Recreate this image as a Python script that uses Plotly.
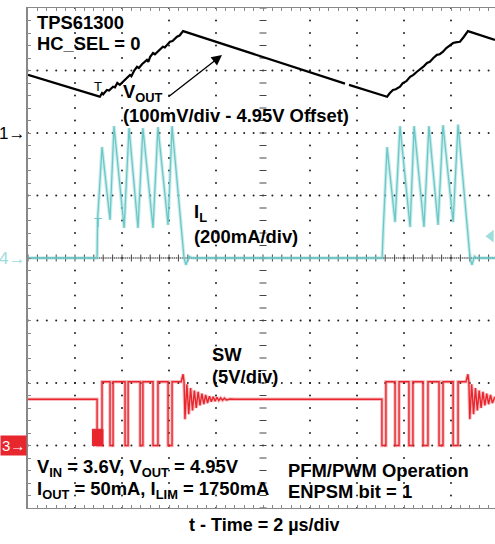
import numpy as np
import plotly.graph_objects as go

# scope settings: 2 us/div, 10 div across, 8 div high
DIV_T = 2.0
CH1_SCALE, CH1_OFFSET, CH1_POS = 0.1, 4.95, 2.0     # V/div, V, div
CH4_SCALE, CH4_POS = 200.0, 0.0                      # mA/div
CH3_SCALE, CH3_POS = 5.0, -3.0                       # V/div

# V_OUT (volts) vs time (us)
t_vout = [0.0, 1.0, 2.0, 2.98, 3.06, 3.15, 3.20, 3.36, 3.45, 3.62, 3.70, 3.80, 3.91, 4.00,
          4.15, 4.34, 4.40, 4.52, 4.64, 4.72, 4.85, 5.06, 5.12, 5.20, 5.32, 5.40, 5.55,
          5.74, 5.82, 5.95, 6.04, 6.15, 6.34, 6.45, 6.60, 13.49, None, 13.66, 15.28,
          15.40, 15.53, 15.65, 15.83, 15.95, 16.10, 16.26, 16.40, 16.55, 16.70, 16.85,
          16.98, 17.10, 17.25, 17.40, 17.52, 17.66, 17.80, 17.95, 18.09, 18.20, 18.38,
          18.55, 18.72, 19.87]
v_out = [5.043, 5.032, 5.020, 5.009, 5.008, 5.014, 5.012, 5.019, 5.018, 5.024, 5.023, 5.030,
         5.027, 5.031, 5.036, 5.043, 5.041, 5.050, 5.056, 5.054, 5.060, 5.067, 5.064, 5.072,
         5.078, 5.076, 5.082, 5.088, 5.087, 5.093, 5.096, 5.097, 5.104, 5.106, 5.113, 5.029,
         None, 5.027, 5.008, 5.014, 5.019, 5.020, 5.024, 5.030, 5.033, 5.040, 5.043, 5.048,
         5.052, 5.057, 5.062, 5.064, 5.070, 5.075, 5.076, 5.080, 5.086, 5.090, 5.094, 5.095,
         5.096, 5.104, 5.113, 5.099]

# inductor current I_L (mA)
t_il = [0.0, 2.94, 2.96, 3.15, 3.49, 3.66, 4.09, 4.30, 4.68, 4.89, 5.32, 5.53, 5.96, 6.13,
        6.64, 6.72, 6.85, 7.0, 15.07, 15.11, 15.28, 15.62, 15.83, 16.26, 16.43, 16.85,
        17.06, 17.45, 17.66, 18.09, 18.30, 18.81, 18.89, 19.0, 19.1, 19.87]
i_l = [0, 0, 120, 355, 122, 422, 96, 416, 96, 416, 96, 419, 106, 422,
       0, -22, 5, 0, 0, 80, 355, 115, 422, 99, 422, 99,
       422, 106, 425, 115, 427, 0, -22, 5, 0, 0]

# switch node SW (volts)
t_sw = [0.0, 2.94, 2.94, 3.15, 3.15, 3.49, 3.49, 3.62, 3.62, 4.13, 4.13, 4.26, 4.26,
        4.77, 4.77, 4.89, 4.89, 5.32, 5.32, 5.53, 5.53, 5.96, 5.96, 6.13, 6.13, 6.52,
        6.60, 6.64,
        6.68, 6.76, 6.84, 6.92, 7.00, 7.08, 7.16, 7.24, 7.32, 7.40, 7.48, 7.56, 7.64,
        7.72, 7.80, 7.88, 7.96, 8.04, 8.12, 8.20, 8.28, 8.36, 8.44, 8.60, 8.80,
        15.06, 15.06, 15.23, 15.23, 15.62, 15.62, 15.79, 15.79, 16.21, 16.21, 16.38,
        16.38, 16.81, 16.81, 17.02, 17.02, 17.49, 17.49, 17.66, 17.66, 18.09, 18.09,
        18.30, 18.30, 18.64, 18.72, 18.76,
        18.80, 18.88, 18.96, 19.04, 19.12, 19.20, 19.28, 19.36, 19.44, 19.52, 19.60,
        19.68, 19.76, 19.87]
v_sw = [3.7, 3.7, 0, 0, 5.1, 5.1, 0, 0, 5.1, 5.1, 0, 0, 5.1,
        5.1, 0, 0, 5.1, 5.1, 0, 0, 5.1, 5.1, 0, 0, 5.1, 5.1,
        5.7, 5.1,
        2.1, 4.9, 2.5, 4.6, 2.8, 4.4, 3.0, 4.3, 3.2, 4.15, 3.3, 4.05, 3.4,
        3.95, 3.5, 3.9, 3.55, 3.85, 3.6, 3.8, 3.62, 3.78, 3.65, 3.72, 3.7,
        3.7, 0, 0, 5.1, 5.1, 0, 0, 5.1, 5.1, 0, 0,
        5.1, 5.1, 0, 0, 5.1, 5.1, 0, 0, 5.1, 5.1, 0,
        0, 5.1, 5.1, 5.7, 5.1,
        2.1, 4.9, 2.5, 4.6, 2.8, 4.4, 3.0, 4.3, 3.2, 4.15, 3.3,
        4.05, 3.4, 3.9]

# overlapping edges at the first turn-on (drawn filled)
t_blob = [2.72, 3.19, 3.19, 2.72]
v_blob = [0, 0, 1.3, 1.3]


def ch1(v):
    return [None if x is None else CH1_POS + (x - CH1_OFFSET) / CH1_SCALE for x in v]


def ch4(v):
    return [CH4_POS + x / CH4_SCALE for x in v]


def ch3(v):
    return [CH3_POS + x / CH3_SCALE for x in v]


TMAX = 467 / 47 * DIV_T
FONT = "Liberation Sans, Arial, sans-serif"
CYAN = "#6cc8c8"
RED = "#e8262e"

fig = go.Figure()

# graticule dots
gx, gy = [], []
for k in range(1, 10):
    if k == 5:
        continue
    for y in np.arange(-4, 4.001, 0.2):
        gx.append(k * DIV_T); gy.append(y)
for j in range(-3, 4):
    if j == 0:
        continue
    for x in np.arange(0, TMAX, 0.4):
        gx.append(x); gy.append(j)
fig.add_trace(go.Scatter(x=gx, y=gy, mode="markers", hoverinfo="skip",
                         marker=dict(size=2, color="#222"), showlegend=False))
# centre axes with minor ticks
cy = np.arange(-4, 4.001, 0.2)
fig.add_trace(go.Scatter(x=[10] * len(cy), y=cy, mode="markers", hoverinfo="skip",
                         marker=dict(symbol="line-ew", size=5, line=dict(width=1, color="#444")),
                         showlegend=False))
cx = np.arange(0, TMAX, 0.4)
fig.add_trace(go.Scatter(x=cx, y=[0] * len(cx), mode="markers", hoverinfo="skip",
                         marker=dict(symbol="line-ns", size=5, line=dict(width=1, color="#444")),
                         showlegend=False))
fine = np.arange(0, TMAX, 0.08)
fig.add_trace(go.Scatter(x=fine, y=[0] * len(fine), mode="markers", hoverinfo="skip",
                         marker=dict(size=1.5, color="#444"), showlegend=False))

# traces
fig.add_trace(go.Scatter(x=t_il, y=ch4(i_l), mode="lines",
                         line=dict(color="rgba(108,200,200,0.35)", width=3.5), showlegend=False))
fig.add_trace(go.Scatter(x=t_il, y=ch4(i_l), mode="lines",
                         line=dict(color=CYAN, width=1.3), showlegend=False))
fig.add_trace(go.Scatter(x=t_blob, y=ch3(v_blob), fill="toself", mode="lines",
                         fillcolor=RED, line=dict(color=RED, width=1), showlegend=False))
fig.add_trace(go.Scatter(x=t_sw, y=ch3(v_sw), mode="lines",
                         line=dict(color="rgba(232,38,46,0.3)", width=3.5), showlegend=False))
fig.add_trace(go.Scatter(x=t_sw, y=ch3(v_sw), mode="lines",
                         line=dict(color=RED, width=1.4), showlegend=False))
fig.add_trace(go.Scatter(x=t_vout, y=ch1(v_out), mode="lines", connectgaps=False,
                         line=dict(color="black", width=2.2), showlegend=False))
# trigger level marker
fig.add_trace(go.Scatter(x=[19.7], y=[0.35], mode="markers", hoverinfo="skip",
                         marker=dict(symbol="triangle-left", size=11, color="#9fdcdc"),
                         showlegend=False))


def px(xp, yp):
    return (xp - 28) / 47 * DIV_T, (258 - yp) / 62.5


def label(text, xp, yp, size=18.4, color="black", anchor="left"):
    x, y = px(xp, yp)
    fig.add_annotation(x=x, y=y, text=text, showarrow=False, xanchor=anchor, yanchor="middle",
                       font=dict(family=FONT, size=size, color=color, weight="bold"))


label("TPS61300", 35, 22)
label("HC_SEL = 0", 35, 43)
label("V<sub>OUT</sub>", 121, 93)
label("(100mV/div - 4.95V Offset)", 121, 115)
label("I<sub>L</sub>", 192, 213)
label("(200mA/div)", 192, 236)
label("SW", 210, 354)
label("(5V/div)", 210, 376)
label("V<sub>IN</sub> = 3.6V, V<sub>OUT</sub> = 4.95V", 35, 468)
label("I<sub>OUT</sub> = 50mA, I<sub>LIM</sub> = 1750mA", 35, 490)
label("PFM/PWM Operation", 286, 470)
label("ENPSM bit = 1", 286, 491)

# x-axis caption below the screen
fig.add_annotation(x=(264 - 28) / 467, y=(508 - 525) / 500, xref="paper", yref="paper",
                   text="t - Time = 2 \u00b5s/div", showarrow=False, xanchor="center",
                   yanchor="middle", font=dict(family=FONT, size=18, color="black", weight="bold"))

# arrow to V_OUT trace
hx, hy = px(222, 55)
tx, ty = px(167, 98)
fig.add_annotation(x=hx, y=hy, ax=tx, ay=ty, axref="x", ayref="y", text="",
                   showarrow=True, arrowhead=2, arrowsize=1.6, arrowwidth=1.3, arrowcolor="black")

# trigger marks
for xp, yp, c in [(98, 86, "black"), (98, 222, CYAN)]:
    x, y = px(xp, yp)
    fig.add_annotation(x=x, y=y, text="T", showarrow=False,
                       font=dict(family=FONT, size=13, color=c))

# channel markers
fig.add_annotation(x=0, y=2, xref="x", text="1\u2192", showarrow=False, xanchor="right",
                   xshift=-1, font=dict(family=FONT, size=17, color="black"))
fig.add_annotation(x=0, y=0, xref="x", text="4\u2192", showarrow=False, xanchor="right",
                   xshift=-1, font=dict(family=FONT, size=17, color="#9fdcdc"))
fig.add_annotation(x=0, y=-3, xref="x", text="3\u2192", showarrow=False, xanchor="right",
                   xshift=-1, bgcolor=RED, borderpad=1,
                   font=dict(family=FONT, size=15, color="white"))

fig.update_layout(
    width=495, height=544,
    margin=dict(l=28, r=0, t=8, b=36),
    paper_bgcolor="white", plot_bgcolor="white",
    xaxis=dict(range=[0, TMAX], showline=True, linecolor="#888", linewidth=1.2,
               mirror="ticks", ticks="inside", ticklen=3, tickcolor="#888",
               tick0=0, dtick=0.4, showticklabels=False, showgrid=False, zeroline=False),
    yaxis=dict(range=[-4, 4], showline=True, linecolor="#888", linewidth=1.5,
               ticks="inside", ticklen=3, tickcolor="#888",
               tick0=0, dtick=0.2, showticklabels=False, showgrid=False, zeroline=False),
)

fig.write_html("out.html", config={"displayModeBar": False},
               post_script="document.body.style.margin='0';")
